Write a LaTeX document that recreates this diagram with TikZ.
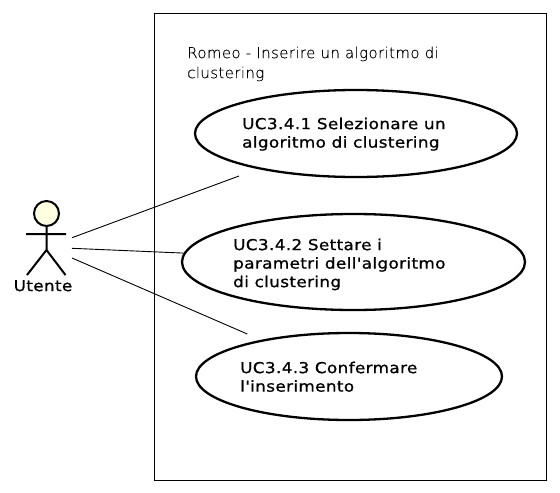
\documentclass[tikz,border=0pt]{standalone}
\usepackage{fontspec}
\setmainfont{DejaVu Sans}
\newfontfamily\thinfont[LetterSpace=2.5,FakeBold=0.1]{DejaVu Sans ExtraLight}
\newfontfamily\labelfont[FakeStretch=1.12,LetterSpace=2.5,FakeBold=0.9]{DejaVu Sans}
\definecolor{headfill}{RGB}{255,255,225}
\usetikzlibrary{shapes.geometric}
\tikzset{
  usecase/.style={draw=black,line width=2.3pt,ellipse,fill=white},
  uclabel/.style={anchor=north west,align=left,font=\fontsize{15}{18.5}\labelfont,inner sep=0pt,text=black},
  link/.style={draw=black,line width=0.9pt},
  limb/.style={draw=black,line width=2pt}
}
\begin{document}
\begin{tikzpicture}[x=1pt,y=-1pt]
\useasboundingbox (0,0) rectangle (560,493);
\node[draw=black,line width=0.9pt,minimum width=392pt,minimum height=467pt,inner sep=0pt,anchor=north west] (sys) at (154,13) {};
\node[anchor=north west,align=left,inner sep=0pt,font=\fontsize{15}{20}\thinfont] (title) at (187,46.5) {Romeo - Inserire un algoritmo di\\clustering};
\node[usecase,minimum width=322pt,minimum height=87pt,inner sep=0pt] (uc1) at (356,133.5) {};
\node[usecase,minimum width=343pt,minimum height=96pt,inner sep=0pt] (uc2) at (353.5,262) {};
\node[usecase,minimum width=306pt,minimum height=87pt,inner sep=0pt] (uc3) at (349,376.5) {};
\node[uclabel] (t1) at (242,117.5) {UC3.4.1 Selezionare un\\algoritmo di clustering};
\node[uclabel] (t2) at (233,238.5) {UC3.4.2 Settare i\\parametri dell'algoritmo\\di clustering};
\node[uclabel] (t3) at (240,361.5) {UC3.4.3 Confermare\\l'inserimento};
\node[draw=black,line width=2pt,fill=headfill,circle,minimum size=25pt,inner sep=0pt] (head) at (46.5,213.5) {};
\coordinate (neck) at (46.5,226);
\coordinate (hip) at (46.5,250);
\coordinate (armL) at (26,234);
\coordinate (armR) at (66,234);
\coordinate (legL) at (27,275);
\coordinate (legR) at (65.5,275);
\draw[limb] (neck) -- (hip) (armL) -- (armR) (legL) -- (hip) -- (legR);
\node[font=\fontsize{15}{18}\labelfont,inner sep=0pt] (actor) at (43,285.7) {Utente};
\coordinate (a1) at (72,237.7);
\coordinate (a2) at (72,248.3);
\coordinate (a3) at (72,258);
\coordinate (e1) at (239,176);
\coordinate (e3) at (247.3,334);
\draw[link] (a1) -- (e1);
\draw[link] (a2) -- (uc2.177);
\draw[link] (a3) -- (e3);
\end{tikzpicture}
\end{document}
